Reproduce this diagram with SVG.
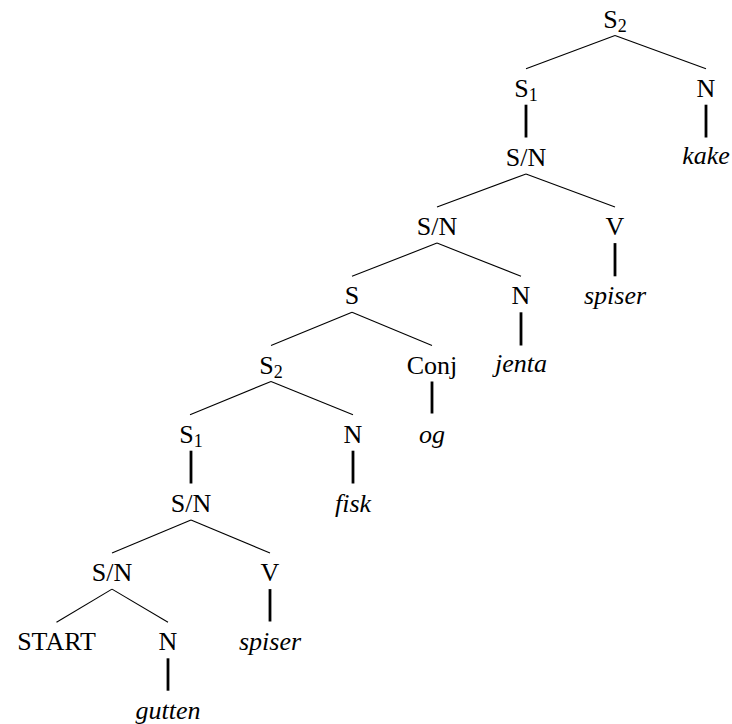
<svg xmlns="http://www.w3.org/2000/svg" width="732" height="724" viewBox="0 0 732 724">
<style>
text{font-size:26px;fill:#000;text-anchor:middle}
.it{font-style:italic}
.sub{font-size:18px}
.e{stroke:#000;stroke-width:1.1;fill:none}
.t{stroke:#000;stroke-width:2.8;fill:none}
</style>
<rect width="732" height="724" fill="#fff"/>
<g id="edges">
<line class="e" x1="615" y1="35.5" x2="526" y2="68.7"/>
<line class="e" x1="615" y1="35.5" x2="706" y2="68.7"/>
<line class="t" x1="526" y1="104.7" x2="526" y2="137.5"/>
<line class="t" x1="706" y1="104.7" x2="706" y2="137.5"/>
<line class="e" x1="526" y1="173.9" x2="437" y2="207.1"/>
<line class="e" x1="526" y1="173.9" x2="615" y2="207.1"/>
<line class="e" x1="437" y1="243.1" x2="352" y2="276.3"/>
<line class="e" x1="437" y1="243.1" x2="521" y2="276.3"/>
<line class="t" x1="615" y1="243.1" x2="615" y2="276.3"/>
<line class="e" x1="352" y1="312.3" x2="271" y2="345.5"/>
<line class="e" x1="352" y1="312.3" x2="432" y2="345.5"/>
<line class="t" x1="521" y1="312.3" x2="521" y2="345.5"/>
<line class="e" x1="271" y1="381.5" x2="190" y2="414.7"/>
<line class="e" x1="271" y1="381.5" x2="353" y2="414.7"/>
<line class="t" x1="432" y1="381.5" x2="432" y2="413.5"/>
<line class="t" x1="191" y1="450.7" x2="191" y2="483.5"/>
<line class="t" x1="353" y1="450.7" x2="353" y2="483.5"/>
<line class="e" x1="191" y1="519.9" x2="112" y2="553.1"/>
<line class="e" x1="191" y1="519.9" x2="270" y2="553.1"/>
<line class="e" x1="112" y1="589.1" x2="56.5" y2="622.3"/>
<line class="e" x1="112" y1="589.1" x2="168" y2="622.3"/>
<line class="t" x1="270" y1="589.1" x2="270" y2="621.5"/>
<line class="t" x1="168" y1="658.3" x2="168" y2="690.7"/>
</g>
<g id="nodes" font-family="Liberation Serif, serif">
<g id="n_S2_top"><text x="615" y="27.5">S<tspan class="sub" dy="4">2</tspan></text></g>
<g id="n_S1_top"><text x="526" y="96.7">S<tspan class="sub" dy="4">1</tspan></text></g>
<g id="n_N_kake"><text x="706" y="96.7">N</text></g>
<g id="n_SN_a"><text x="526" y="165.9">S/N</text></g>
<g id="n_kake"><text class="it" x="706" y="163.9">kake</text></g>
<g id="n_SN_b"><text x="437" y="235.1">S/N</text></g>
<g id="n_V_top"><text x="615" y="235.1">V</text></g>
<g id="n_S"><text x="352" y="304.3">S</text></g>
<g id="n_N_jenta"><text x="521" y="304.3">N</text></g>
<g id="n_spiser_top"><text class="it" x="615" y="304.3">spiser</text></g>
<g id="n_S2_low"><text x="271" y="373.5">S<tspan class="sub" dy="4">2</tspan></text></g>
<g id="n_Conj"><text x="432" y="373.5">Conj</text></g>
<g id="n_jenta"><text class="it" x="521" y="371.5">jenta</text></g>
<g id="n_S1_low"><text x="191" y="442.7">S<tspan class="sub" dy="4">1</tspan></text></g>
<g id="n_N_fisk"><text x="353" y="442.7">N</text></g>
<g id="n_og"><text class="it" x="432" y="442.7">og</text></g>
<g id="n_SN_c"><text x="191" y="511.9">S/N</text></g>
<g id="n_fisk"><text class="it" x="353" y="511.9">fisk</text></g>
<g id="n_SN_d"><text x="112" y="581.1">S/N</text></g>
<g id="n_V_low"><text x="270" y="581.1">V</text></g>
<g id="n_START"><text x="56.5" y="650.3">START</text></g>
<g id="n_N_gutten"><text x="168" y="650.3">N</text></g>
<g id="n_spiser_low"><text class="it" x="270" y="650.3">spiser</text></g>
<g id="n_gutten"><text class="it" x="168" y="718.5">gutten</text></g>
</g>
</svg>
